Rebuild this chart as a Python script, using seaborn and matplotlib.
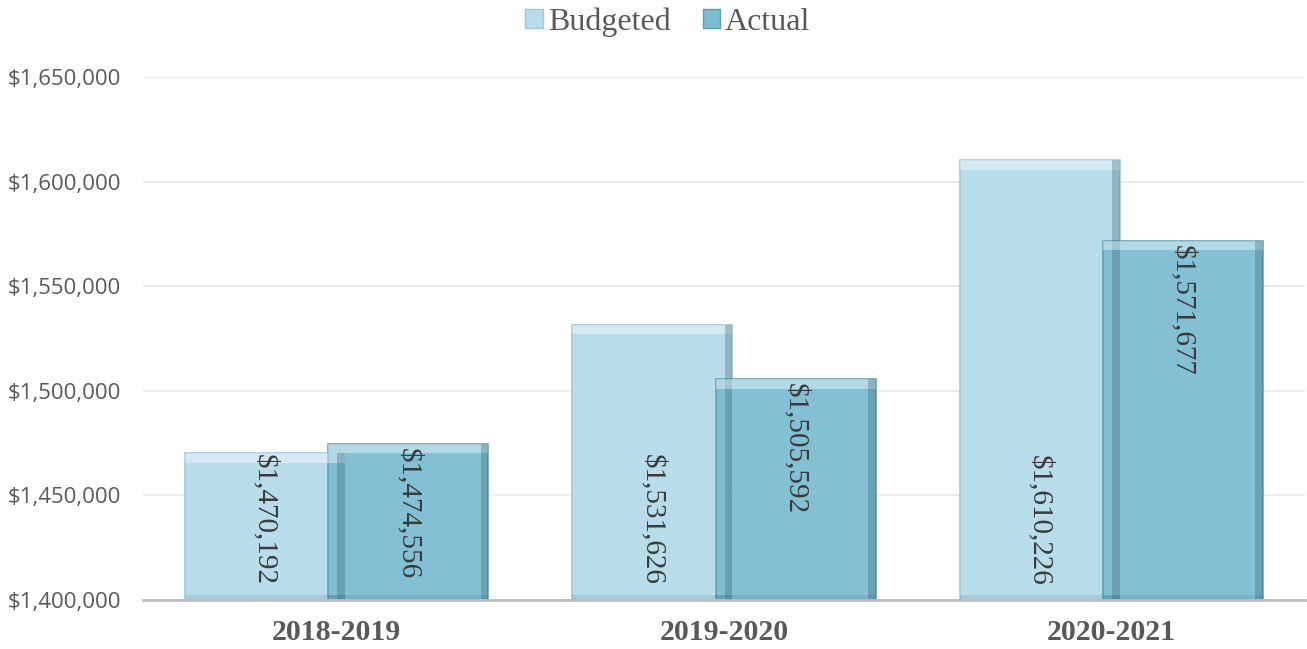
import matplotlib
matplotlib.use("Agg")
import matplotlib.pyplot as plt
import seaborn as sns
import pandas as pd
import numpy as np

# data
years = ["2018-2019", "2019-2020", "2020-2021"]
budgeted = [1470192, 1531626, 1610226]
actual = [1474556, 1505592, 1571677]
series = ["Budgeted", "Actual"]

df = pd.DataFrame({
    "Year": years * 2,
    "Series": ["Budgeted"] * len(years) + ["Actual"] * len(years),
    "Amount": budgeted + actual,
})

colors = {"Budgeted": "#B9DCEA", "Actual": "#7BBCD0"}
edges = {"Budgeted": "#A3C8D6", "Actual": "#5E9DB0"}

sns.set_style("white")
plt.rcParams["font.family"] = ["Liberation Serif", "DejaVu Serif"]

fig = plt.figure(figsize=(13.07, 6.49), dpi=100)
ax = fig.add_axes([143 / 1307, 1 - 600 / 649, (1305 - 143) / 1307, (600 - 77) / 649])

sns.barplot(data=df, x="Year", y="Amount", hue="Series", hue_order=series,
            palette=colors, saturation=1, width=0.74, errorbar=None, ax=ax, legend=False)

# widen bars a bit so the pair overlaps like in the original
bar_w = 0.413
containers = ax.containers
for cont, name in zip(containers, series):
    for p in cont.patches:
        cx = p.get_x() + p.get_width() / 2
        p.set_x(cx - bar_w / 2)
        p.set_width(bar_w)
        p.set_edgecolor(edges[name])
        p.set_linewidth(1.2)
        if name == "Actual":
            p.set_alpha(0.93)

ax.set_ylim(1400000, 1650000)
ax.set_xlim(-0.5, 2.5)

# bevel-ish highlights computed from each bar
for cont, name in zip(containers, series):
    for p in cont.patches:
        x0, w = p.get_x(), p.get_width()
        top = p.get_y() + p.get_height()
        z = p.get_zorder() + 0.1
        ax.add_patch(plt.Rectangle((x0, top - 4500), w, 4500, color="white",
                                   alpha=0.4, lw=0, zorder=z))
        ax.add_patch(plt.Rectangle((x0 + w - 0.02, 1400000), 0.02, top - 1400000,
                                   color="#2E5D6B", alpha=0.3, lw=0, zorder=z))
        ax.add_patch(plt.Rectangle((x0, 1400000), w, 2500, color="#2E5D6B",
                                   alpha=0.15, lw=0, zorder=z))

# value labels, rotated to read top-down
label_kw = dict(rotation=270, fontsize=21, color="#3A3A3A",
                ha="center", family=["Liberation Serif", "DejaVu Serif"], zorder=5)
for p, v in zip(containers[0].patches, budgeted):
    cx = p.get_x() + p.get_width() / 2
    ax.text(cx, 1400000 + 7000, f"${v:,.0f}", va="bottom", **label_kw)
for p, v in zip(containers[1].patches, actual):
    cx = p.get_x() + p.get_width() / 2
    ax.text(cx, v - 2000, f"${v:,.0f}", va="top", **label_kw)

# axes styling
ax.yaxis.set_major_locator(matplotlib.ticker.MultipleLocator(50000))
ax.yaxis.set_major_formatter(matplotlib.ticker.FuncFormatter(lambda v, _: f"${v:,.0f}"))
ax.grid(axis="y", color="#EBEBEB", linewidth=1.3)
ax.set_axisbelow(True)
for s in ["top", "right", "left"]:
    ax.spines[s].set_visible(False)
ax.spines["bottom"].set_color("#BFBFBF")
ax.spines["bottom"].set_linewidth(2)
ax.tick_params(axis="both", length=0)
ax.tick_params(axis="y", pad=16)
ax.tick_params(axis="x", pad=14)
for t in ax.get_yticklabels():
    t.set_fontfamily(["Open Sans", "DejaVu Sans"])
    t.set_fontsize(16)
    t.set_color("#595959")
for t in ax.get_xticklabels():
    t.set_fontfamily(["Liberation Serif", "DejaVu Serif"])
    t.set_fontsize(21.5)
    t.set_fontweight("bold")
    t.set_color("#595959")
ax.set_xlabel("")
ax.set_ylabel("")

handles = [matplotlib.patches.Patch(facecolor=colors[s], edgecolor=edges[s]) for s in series]
fig.legend(handles, series, loc="upper center", bbox_to_anchor=(0.511, 1.033), ncol=2,
           frameon=False, fontsize=23, handlelength=0.55, handleheight=0.55,
           handletextpad=0.15, columnspacing=1.0, labelcolor="#595959")

fig.savefig("out.png", dpi=100)
